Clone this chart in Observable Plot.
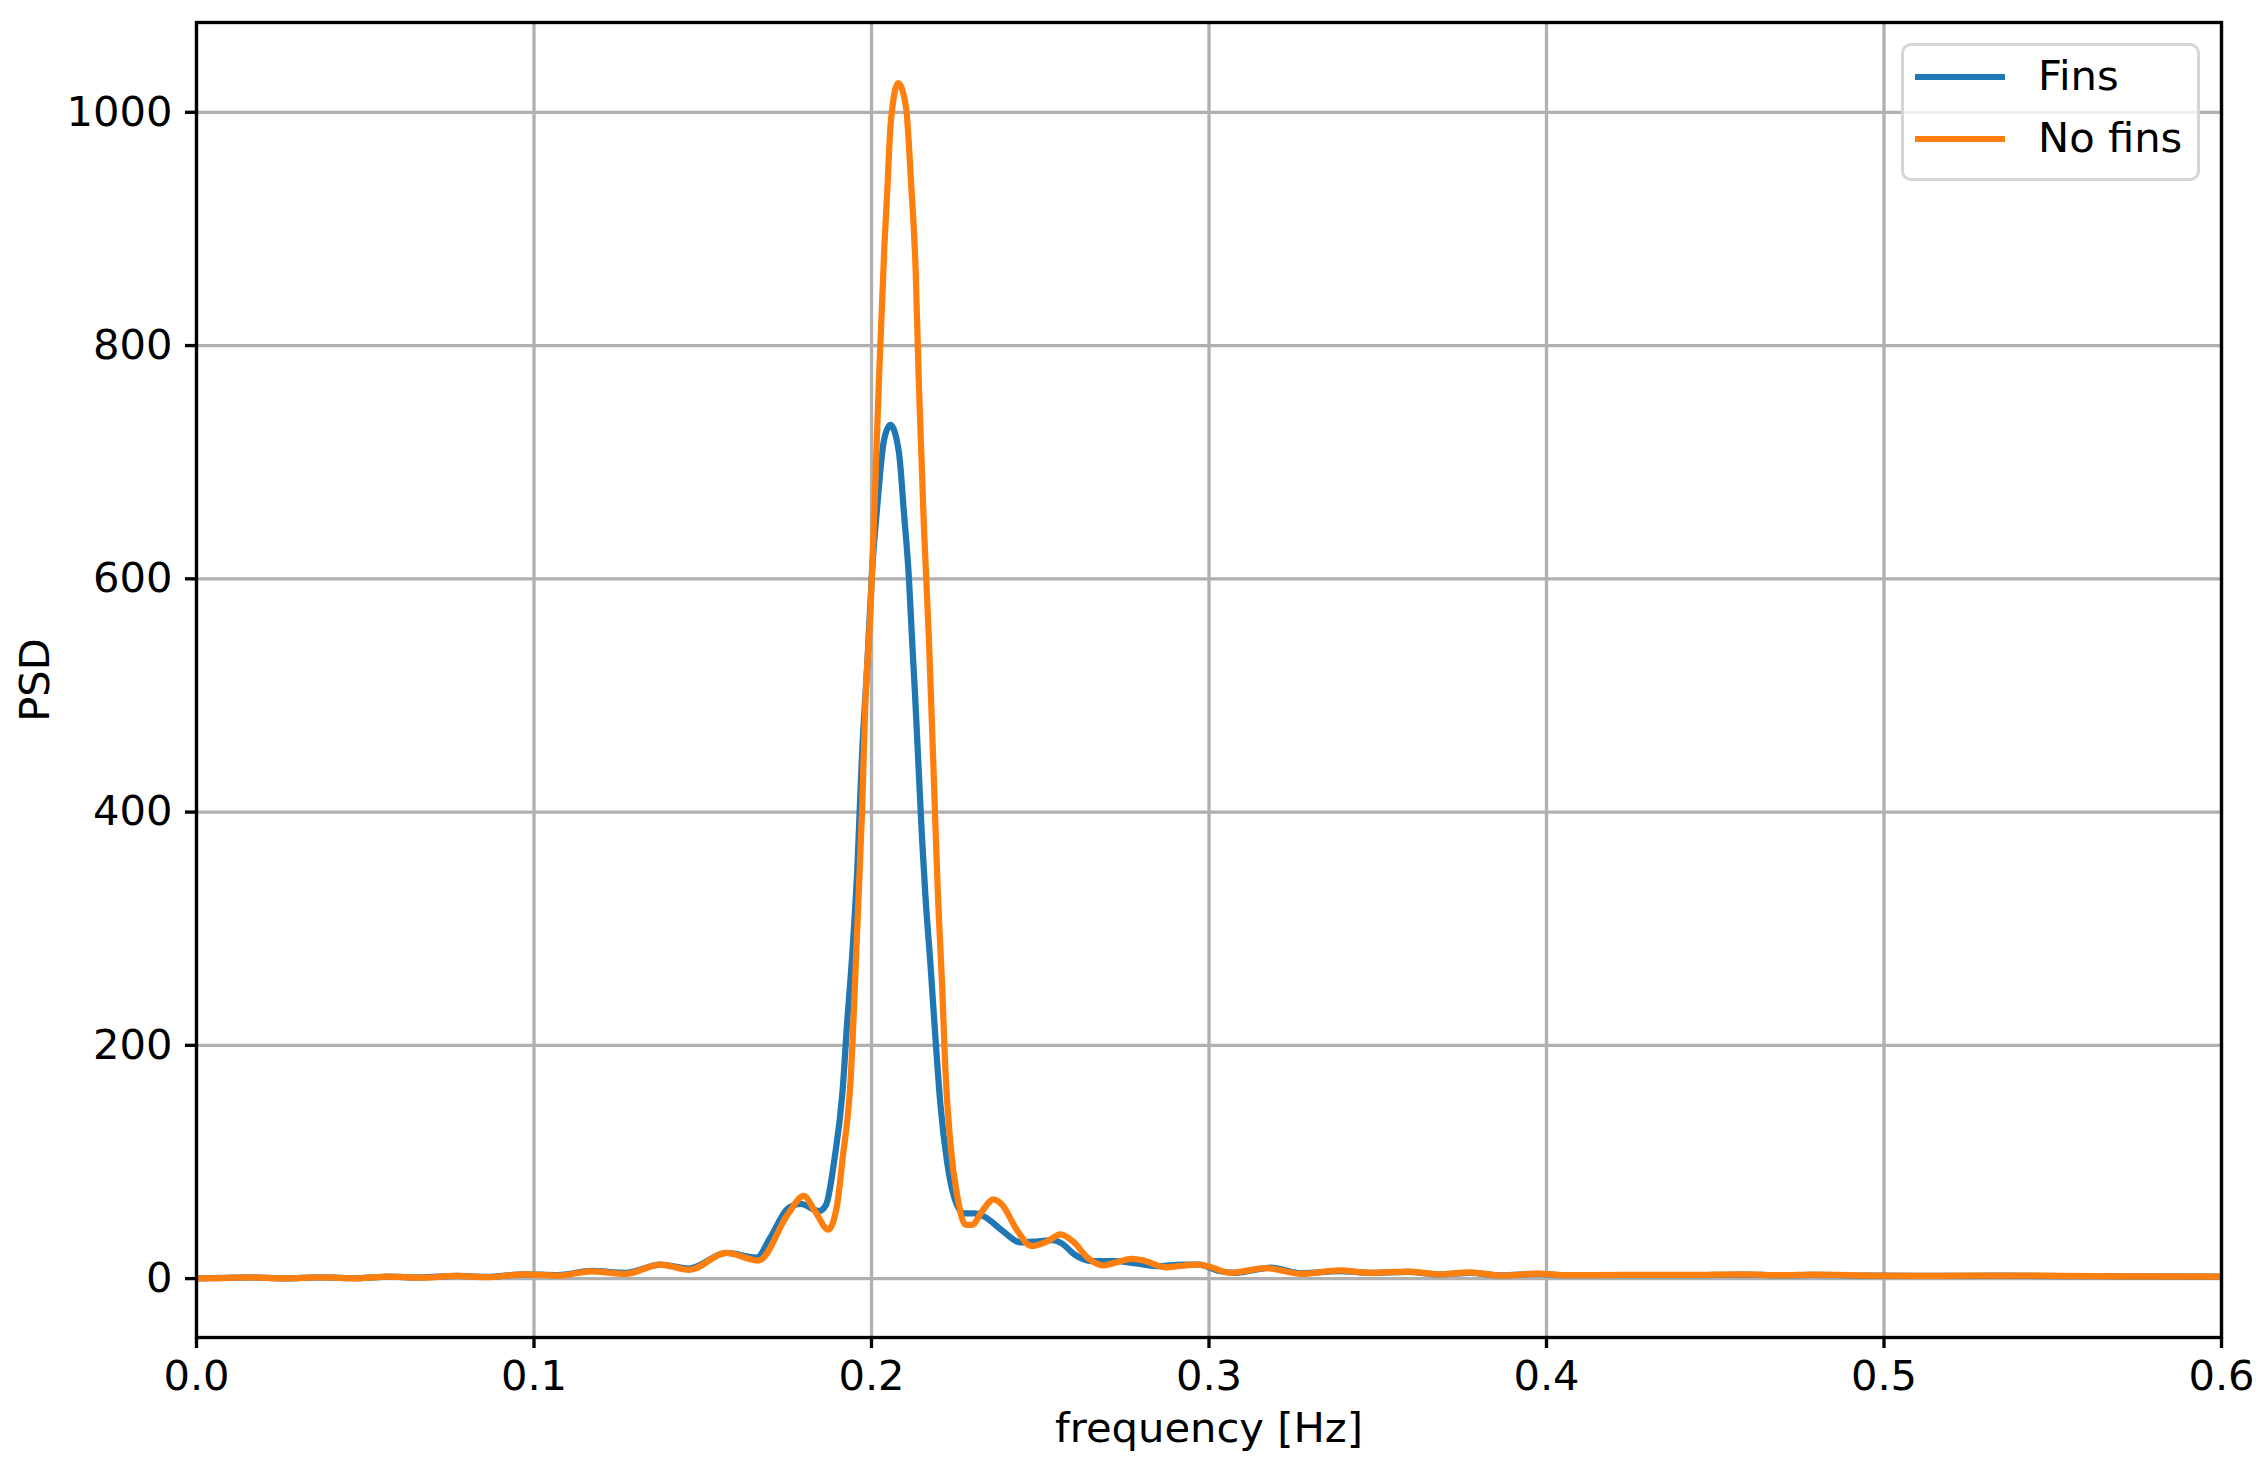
<!DOCTYPE html>
<html>
<head>
<meta charset="utf-8">
<script src="https://cdn.jsdelivr.net/npm/d3@7"></script>
<script src="https://cdn.jsdelivr.net/npm/@observablehq/plot@0.6"></script>
<style>
  html, body { margin: 0; padding: 0; background: white; }
  #wrap { position: relative; width: 2265px; height: 1468px; font-family: "DejaVu Sans", sans-serif; }
  #legend {
    position: absolute; left: 1901px; top: 43px; width: 293px; height: 132px;
    border: 3px solid #d5d5d5; border-radius: 10px; background: rgba(255,255,255,0.8);
    box-sizing: content-box;
  }
  .lg-row { position: absolute; left: 0; height: 0; }
  .lg-line { position: absolute; left: 11px; width: 90px; height: 6.25px; margin-top: -3.1px; }
  .lg-text { position: absolute; left: 134px; top: -26px; font-size: 41.67px; line-height: 50px; white-space: nowrap; color: black; }
</style>
</head>
<body>
<div id="wrap"><div id="chart"></div><div id="legend"></div></div>
<script>
// ---- data ----
const seriesNames = ["Fins", "No fins"];
const seriesColors = ["#1f77b4", "#ff7f0e"];

const freqFins = [0, 0.008, 0.016, 0.026, 0.037, 0.048, 0.057, 0.066, 0.077, 0.086, 0.097, 0.107, 0.117, 0.127, 0.1375, 0.146, 0.157, 0.166, 0.170, 0.1752, 0.179, 0.1845, 0.1865, 0.189, 0.1914, 0.1928, 0.1943, 0.1958, 0.1972, 0.1987, 0.2002, 0.2017, 0.2037, 0.2056, 0.2081, 0.2096, 0.2111, 0.212, 0.213, 0.214, 0.215, 0.216, 0.2175, 0.219, 0.2204, 0.2224, 0.2244, 0.2274, 0.2305, 0.2335, 0.2388, 0.2441, 0.2495, 0.2535, 0.2565, 0.26, 0.2653, 0.2719, 0.2785, 0.2852, 0.2918, 0.2971, 0.3024, 0.3077, 0.3127, 0.3182, 0.3275, 0.3386, 0.3478, 0.3589, 0.3681, 0.3773, 0.3865, 0.3976, 0.405, 0.4234, 0.4419, 0.4585, 0.4696, 0.4788, 0.4972, 0.5157, 0.5341, 0.5526, 0.571, 0.6];
const psdFins = [0.3, 0.6, 1, 0.3, 1, 0.4, 1.7, 1, 2.3, 1.5, 3.7, 3, 6.6, 5, 12, 8.6, 22, 18, 35, 60, 64, 58, 63, 102, 160, 220, 278, 352, 450, 524, 608, 662, 719, 732, 709, 657, 600, 549, 495, 435, 376, 327, 268, 204, 150, 100, 71, 56, 56, 53, 41, 31, 32, 33, 30, 21, 15, 15, 13, 10.6, 12, 12, 7, 5, 7, 9.5, 4.5, 6.5, 4.9, 5.8, 3.7, 5, 2.8, 4, 2.9, 3, 3, 3.5, 2.8, 3.2, 2.5, 2.3, 2.5, 2.2, 2, 1.6];

const freqNoFins = [0, 0.008, 0.016, 0.026, 0.037, 0.048, 0.057, 0.066, 0.077, 0.086, 0.097, 0.107, 0.117, 0.127, 0.1375, 0.146, 0.157, 0.1665, 0.1752, 0.1799, 0.1832, 0.1872, 0.1898, 0.1914, 0.1938, 0.1958, 0.1972, 0.1982, 0.1997, 0.2007, 0.2022, 0.2038, 0.2047, 0.2057, 0.2079, 0.2102, 0.2117, 0.2131, 0.214, 0.2155, 0.217, 0.2185, 0.2197, 0.2209, 0.2219, 0.2234, 0.2254, 0.2279, 0.2298, 0.2328, 0.2362, 0.2388, 0.2428, 0.2474, 0.2521, 0.256, 0.26, 0.264, 0.2686, 0.2772, 0.2799, 0.2871, 0.2964, 0.2997, 0.3064, 0.317, 0.3275, 0.3386, 0.3478, 0.3589, 0.3681, 0.3773, 0.3865, 0.3976, 0.405, 0.4234, 0.4419, 0.4585, 0.4696, 0.4788, 0.4972, 0.5157, 0.5341, 0.5526, 0.571, 0.6];
const psdNoFins = [0.3, 0.5, 1, 0.2, 1, 0.3, 1.7, 0.8, 2.3, 1.2, 3.7, 2.5, 6.3, 4, 12, 7.5, 22, 15.4, 55, 71, 58, 42, 63, 102, 170, 302, 401, 495, 573, 647, 770, 884, 934, 991, 1025, 1005, 941, 863, 770, 647, 549, 426, 327, 253, 179, 115, 71, 46, 46, 58, 68, 63, 43, 28, 32, 38, 31, 18, 11.4, 17, 16, 9.7, 12, 10.6, 5, 9, 4, 7, 5, 6, 3.7, 5.4, 2.6, 4.3, 3, 3.1, 3.1, 3.7, 2.9, 3.4, 2.6, 2.3, 2.6, 2.3, 2, 1.7];

const xTicks = [0, 0.1, 0.2, 0.3, 0.4, 0.5, 0.6];
const yTicks = [0, 200, 400, 600, 800, 1000];
const xLabel = ["frequency [Hz]"];
const yLabel = ["PSD"];

// ---- build table ----
const rows = [
  ...freqFins.map((f, i) => ({series: seriesNames[0], f, psd: psdFins[i]})),
  ...freqNoFins.map((f, i) => ({series: seriesNames[1], f, psd: psdNoFins[i]}))
];

const lw = 3.33;
const chart = Plot.plot({
  width: 2265,
  height: 1468,
  marginLeft: 196,
  marginRight: 44,
  marginTop: 22,
  marginBottom: 131,
  style: {fontFamily: "DejaVu Sans, sans-serif", fontSize: "41.67px", background: "white", color: "black", overflow: "visible"},
  x: {domain: [0, 0.6]},
  y: {domain: [-50.5, 1077]},
  color: {domain: seriesNames, range: seriesColors},
  marks: [
    Plot.gridX(xTicks, {stroke: "#b0b0b0", strokeOpacity: 1, strokeWidth: lw}),
    Plot.gridY(yTicks, {stroke: "#b0b0b0", strokeOpacity: 1, strokeWidth: lw}),
    Plot.line(rows, {x: "f", y: "psd", z: "series", stroke: "series", strokeWidth: 6.25, curve: "monotone-x", clip: true, strokeLinejoin: "round", strokeLinecap: "square"}),
    Plot.frame({stroke: "black", strokeWidth: lw}),
    Plot.axisX(xTicks, {tickFormat: d3.format(".1f"), tickSize: 11, tickPadding: 12, strokeWidth: lw, label: null, fontSize: 41.67}),
    Plot.axisY(yTicks, {tickFormat: d3.format("d"), tickSize: 11, tickPadding: 13, strokeWidth: lw, label: null, fontSize: 41.67}),
    Plot.text(xLabel, {frameAnchor: "bottom", dy: 104, lineAnchor: "bottom", textAnchor: "middle", fontSize: 41.67, fill: "black"}),
    Plot.text(yLabel, {frameAnchor: "left", dx: -148, rotate: -90, lineAnchor: "bottom", textAnchor: "middle", fontSize: 41.67, fill: "black"})
  ]
});
document.getElementById("chart").appendChild(chart);

// ---- legend ----
const legend = document.getElementById("legend");
const rowY = [31, 93];
seriesNames.forEach((name, i) => {
  const row = document.createElement("div");
  row.className = "lg-row";
  row.style.top = rowY[i] + "px";
  const line = document.createElement("div");
  line.className = "lg-line";
  line.style.background = seriesColors[i];
  const text = document.createElement("div");
  text.className = "lg-text";
  text.textContent = name;
  row.appendChild(line);
  row.appendChild(text);
  legend.appendChild(row);
});
</script>
</body>
</html>
